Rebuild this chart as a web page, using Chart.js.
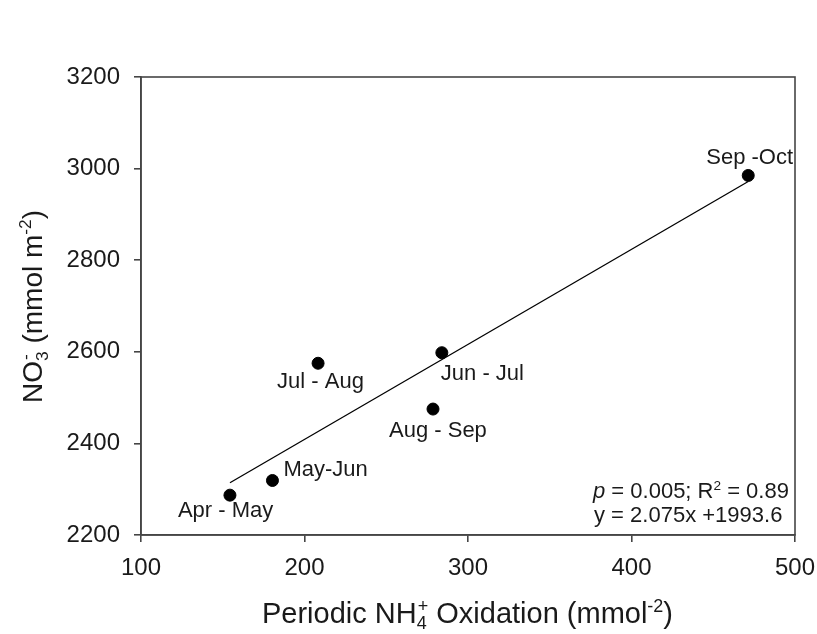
<!DOCTYPE html>
<html>
<head>
<meta charset="utf-8">
<script src="https://cdn.jsdelivr.net/npm/chart.js@4"></script>
<style>
  body { margin: 0; background: #fff; }
  canvas { display: block; }
</style>
</head>
<body>
<canvas id="grafico" width="817" height="634"></canvas>
<script>
// periodos de muestreo y valores medidos
const periodos = ["Apr - May", "May-Jun", "Jul - Aug", "Jun - Jul", "Aug - Sep", "Sep -Oct"];
const oxidacionNH4 = [154.4, 180.4, 208.3, 284.0, 278.6, 471.4];
const nitratoNO3 = [2287, 2319, 2575, 2598, 2475, 2985];

// recta de regresion indicada en la figura
const pendiente = 2.075;
const intercepto = 1993.6;
const rectaX = [Math.min(...oxidacionNH4), Math.max(...oxidacionNH4)];

// ejes
const ejeXMin = 100, ejeXMax = 500, ejeXPaso = 100;
const ejeYMin = 2200, ejeYMax = 3200, ejeYPaso = 200;

// desplazamiento de cada etiqueta respecto a su punto (px)
const desplazEtiquetas = [[-52, 22], [11, -4], [-41, 25], [-1, 27], [-44, 28], [-42, -11]];

const colorTexto = "#1a1a1a";
const colorEje = "#454545";
const fuente = "Arial, 'Liberation Sans', Helvetica, sans-serif";

// dibuja texto con subindices / superindices
function textoRico(ctx, partes, x, y, size) {
    let cx = x;
    const chico = size * 0.62;
    for (const p of partes) {
        ctx.font = (p.italic ? "italic " : "") + size + "px " + fuente;
        if (p.t) {
            ctx.fillText(p.t, cx, y);
            cx += ctx.measureText(p.t).width;
        } else {
            ctx.font = chico + "px " + fuente;
            let w = 0;
            if (p.sub) {
                ctx.fillText(p.sub, cx, y + size * 0.22);
                w = Math.max(w, ctx.measureText(p.sub).width);
            }
            if (p.sup) {
                ctx.fillText(p.sup, cx + (p.sub ? 1 : 0), y - size * 0.38);
                w = Math.max(w, ctx.measureText(p.sup).width + (p.sub ? 1 : 0));
            }
            cx += w;
        }
    }
    return cx - x;
}

function anchoRico(ctx, partes, size) {
    let w = 0;
    for (const p of partes) {
        if (p.t) {
            ctx.font = (p.italic ? "italic " : "") + size + "px " + fuente;
            w += ctx.measureText(p.t).width;
        } else {
            ctx.font = (size * 0.62) + "px " + fuente;
            w += Math.max(p.sub ? ctx.measureText(p.sub).width : 0, p.sup ? ctx.measureText(p.sup).width + 1 : 0);
        }
    }
    return w;
}

const tituloX = [{t: "Periodic NH"}, {sub: "4", sup: "+"}, {t: " Oxidation (mmol"}, {sup: "-2"}, {t: ")"}];
const tituloY = [{t: "NO"}, {sub: "3", sup: "-"}, {t: " (mmol m"}, {sup: "-2"}, {t: ")"}];
const ajuste1 = [{t: "p", italic: true}, {t: " = 0.005; R"}, {sup: "2"}, {t: " = 0.89"}];
const ajuste2 = [{t: "y = 2.075x +1993.6"}];

const plugExtras = {
    id: "extras",
    afterDraw(chart) {
        const ctx = chart.ctx;
        const area = chart.chartArea;
        ctx.save();
        // marco completo
        ctx.strokeStyle = colorEje;
        ctx.lineWidth = 1.6;
        ctx.strokeRect(area.left, area.top, area.right - area.left, area.bottom - area.top);

        ctx.fillStyle = colorTexto;
        ctx.textBaseline = "alphabetic";
        ctx.textAlign = "left";

        // etiquetas de los puntos
        const meta = chart.getDatasetMeta(0);
        ctx.font = "22px " + fuente;
        meta.data.forEach((pt, i) => {
            const d = desplazEtiquetas[i];
            ctx.fillText(periodos[i], pt.x + d[0], pt.y + d[1]);
        });

        // texto del ajuste
        textoRico(ctx, ajuste1, 593, 498, 22);
        textoRico(ctx, ajuste2, 594, 522, 22);

        // titulo eje x
        const tamX = 29;
        const wx = anchoRico(ctx, tituloX, tamX);
        textoRico(ctx, tituloX, (area.left + area.right) / 2 - wx / 2, 623, tamX);

        // titulo eje y
        const tamY = 28;
        const wy = anchoRico(ctx, tituloY, tamY);
        ctx.translate(42, (area.top + area.bottom) / 2);
        ctx.rotate(-Math.PI / 2);
        textoRico(ctx, tituloY, -wy / 2, 0, tamY);
        ctx.restore();
    }
};

const puntos = oxidacionNH4.map((x, i) => ({x: x, y: nitratoNO3[i]}));
const recta = rectaX.map(x => ({x: x, y: pendiente * x + intercepto}));

const ctx = document.getElementById("grafico").getContext("2d");
const chart = new Chart(ctx, {
    type: "scatter",
    data: {
        datasets: [
            {
                data: puntos,
                backgroundColor: "#000",
                borderColor: "#000",
                pointRadius: 6,
                pointHoverRadius: 6
            },
            {
                data: recta,
                showLine: true,
                borderColor: "#000",
                borderWidth: 1.3,
                pointRadius: 0,
                fill: false
            }
        ]
    },
    options: {
        responsive: false,
        animation: false,
        events: [],
        layout: {
            padding: { left: 0, right: 22, top: 77, bottom: 0 }
        },
        plugins: {
            legend: { display: false },
            tooltip: { enabled: false }
        },
        scales: {
            x: {
                type: "linear",
                min: ejeXMin,
                max: ejeXMax,
                afterFit: s => { s.height = 99; s.paddingLeft = 0; s.paddingRight = 0; },
                border: { color: colorEje, width: 1.6 },
                grid: { drawOnChartArea: false, drawTicks: true, tickLength: 7, color: colorEje, lineWidth: 1.6 },
                ticks: {
                    stepSize: ejeXPaso,
                    padding: 12,
                    color: colorTexto,
                    font: { family: fuente, size: 24 },
                    callback: v => String(v)
                }
            },
            y: {
                type: "linear",
                min: ejeYMin,
                max: ejeYMax,
                afterFit: s => { s.width = 141; s.paddingTop = 0; s.paddingBottom = 0; },
                border: { color: colorEje, width: 1.6 },
                grid: { drawOnChartArea: false, drawTicks: true, tickLength: 7, color: colorEje, lineWidth: 1.6 },
                ticks: {
                    stepSize: ejeYPaso,
                    padding: 14,
                    color: colorTexto,
                    font: { family: fuente, size: 24 },
                    callback: v => String(v)
                }
            }
        }
    },
    plugins: [plugExtras]
});
</script>
</body>
</html>
